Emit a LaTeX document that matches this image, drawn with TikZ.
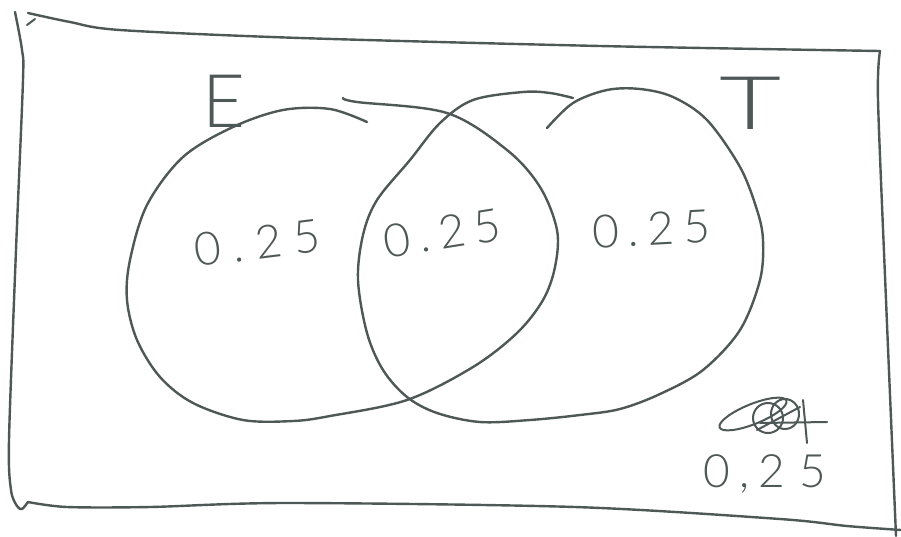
\documentclass[tikz,border=0pt]{standalone}
\usepackage{fontspec}
\newfontfamily\hand{Lato}[UprightFont=* Light]
\definecolor{penc}{RGB}{78,88,86}
\begin{document}
\begin{tikzpicture}[x=1pt,y=-1pt,
  pen/.style={draw=penc, line width=2.4pt, line cap=round, line join=round},
  thin pen/.style={draw=penc, line width=2pt, line cap=round, line join=round},
  digits/.style={text=penc, inner sep=0pt, font=\hand\fontsize{46}{46}\selectfont},
  letter/.style={text=penc, inner sep=0pt, font=\hand\fontsize{74}{74}\selectfont}]
\useasboundingbox (0,0) rectangle (901,536);
\fill[white] (0,0) rectangle (901,536);

% frame
\draw[pen] plot[smooth, tension=0.5] coordinates {(28,13) (70,22) (120,30) (300,38) (600,46) (880,51)};
\draw[pen] plot[smooth, tension=0.5] coordinates {(880,51) (878,100) (886,300) (896,536)};
\draw[pen] plot[smooth, tension=0.5] coordinates {(15,12) (22,50) (23,80) (16,250) (9,440) (11,490) (17,506) (22,509) (28,502)};
\draw[pen] plot[smooth, tension=0.5] coordinates {(28,502) (67,507) (150,507) (287,503) (575,507) (780,519) (847,526) (901,530)};
\draw[thin pen] (27,25) -- (35,19);

% set E
\draw[pen] plot[smooth, tension=0.55] coordinates {(343,98) (357,102) (447,113) (507,150) (540,187) (557,230) (555,267) (543,300) (517,333) (473,367) (407,400) (330,416) (293,421) (243,420) (193,403) (160,377) (137,340) (127,300) (130,260) (147,205) (183,157) (233,127) (283,110) (330,109) (367,122)};

% set T
\draw[pen] plot[smooth, tension=0.55] coordinates {(547,128) (573,103) (607,90) (640,89) (673,97) (707,120) (740,167) (757,210) (763,240) (760,280) (740,330) (703,370) (660,394) (620,409) (580,415) (530,420) (480,422) (437,413) (407,397) (383,370) (367,333) (358,280) (363,235) (377,200) (410,160) (440,123) (473,100) (523,92) (550,93) (573,98)};

% labels
\node[letter] (E) at (224,101) {E};
\node[letter, xscale=1.45] (T) at (751,103) {T};

\node[digits, rotate=7] (pE) at (257,243) {0\kern12pt.\kern12pt2\kern12pt5};
\node[digits, rotate=9] (pET) at (442,233) {0\kern9pt.\kern9pt2\kern9pt5};
\node[digits, rotate=3] (pT) at (651,229) {0\kern9pt.\kern9pt2\kern9pt5};
\node[digits] (pN) at (765,474) {0\kern9pt,\kern9pt2\kern14pt5};

% crossed-out scribble
\draw[thin pen, rotate around={22:(753,414)}] (753,414) ellipse [x radius=36, y radius=10];
\draw[thin pen] (768,418) circle [radius=15];
\draw[thin pen] (785,414) ellipse [x radius=14, y radius=15];
\draw[thin pen] (757,430) -- (800,407);
\draw[thin pen] (760,423) -- (827,422);
\draw[thin pen] (803,400) -- (807,443);
\end{tikzpicture}
\end{document}
